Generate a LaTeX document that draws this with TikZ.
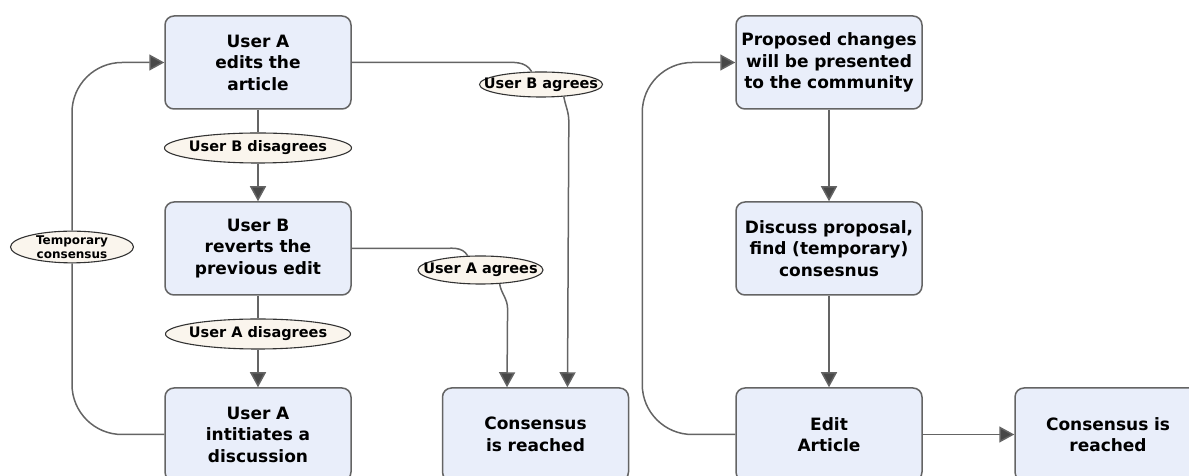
\documentclass[tikz,border=0pt]{standalone}
\usepackage{fontspec}
\setmainfont{DejaVu Sans}
\usetikzlibrary{arrows.meta,shapes.geometric,positioning}
\definecolor{BoxBlue}{RGB}{233,238,250}
\definecolor{OvalCream}{RGB}{250,245,237}
\definecolor{LineGray}{RGB}{100,100,100}
\definecolor{TipGray}{RGB}{72,72,72}
\tikzset{
  stepbox/.style={draw=LineGray,line width=1.5pt,rounded corners=9pt,fill=BoxBlue,
    minimum width=186pt,minimum height=93pt,text width=182pt,align=center,inner sep=0pt,
    font=\bfseries\fontsize{17}{21.5}\selectfont},
  oval/.style={ellipse,draw=black!80,line width=1.1pt,fill=OvalCream,inner xsep=-16pt,inner ysep=0pt,
    font=\bfseries\fontsize{14.5}{17}\selectfont},
  link/.style={draw=LineGray,line width=1.5pt},
  flow/.style={link,-{Triangle[length=15pt,width=16pt,fill=TipGray]}},
}

\begin{document}
\begin{tikzpicture}[x=1pt,y=1pt]
      \useasboundingbox (0,0) rectangle (1189,476);
      % left flow
      \node[stepbox] (ua) at (258,413.5) {User A\\edits the\\article};
      \node[stepbox] (ub) at (258,227.5) {User B\\reverts the\\previous edit};
      \node[stepbox] (uc) at (258,41.5) {User A\\intitiates a\\discussion};
      \node[stepbox] (cons1) at (535.5,41.5) {Consensus\\is reached};
      \node[oval,minimum width=187pt,minimum height=30pt] (bdis) at (258,328) {User B disagrees};
      \node[oval,minimum width=185pt,minimum height=30pt] (adis) at (258,142) {User A disagrees};
      \node[oval,minimum width=123pt,minimum height=30pt,align=center,
        font=\bfseries\fontsize{12}{13.5}\selectfont] (temp) at (72,229) {Temporary\\consensus};
      \node[oval,minimum width=123pt,minimum height=25pt] (bagr) at (541,391.5) {User B agrees};
      \node[oval,minimum width=125pt,minimum height=28pt] (aagr) at (480.5,206) {User A agrees};
      \draw[link] (ua.south) -- (bdis.north);
      \draw[flow] (bdis.south) -- (ub.north);
      \draw[link] (ub.south) -- (adis.north);
      \draw[flow] (adis.south) -- (uc.north);
      \draw[link,rounded corners=50pt] (uc.west) -| (temp.south);
      \draw[flow,rounded corners=50pt] (temp.north) |- (ua.west);
      \draw[link] (ua.east) -- (500,413.5) to[out=0,in=120] (bagr.126);
      \draw[flow] (bagr.-28) to[out=-80,in=90] ++(5,-25) -- ([xshift=32pt]cons1.north);
      \draw[link] (ub.east) -- (440,227.5) to[out=0,in=120] (aagr.132);
      \draw[flow] (aagr.-36) to[out=-80,in=90] ++(8,-25) -- ([xshift=-28.5pt]cons1.north);
      % right flow
      \node[stepbox] (prop) at (829,413.5) {Proposed changes\\will be presented\\to the community};
      \node[stepbox] (disc) at (829,227.5) {Discuss proposal,\\find (temporary)\\consesnus};
      \node[stepbox] (edit) at (829,41.5) {Edit\\Article};
      \node[stepbox] (cons2) at (1108,41.5) {Consensus is\\reached};
      \draw[flow] (prop.south) -- (disc.north);
      \draw[flow] (disc.south) -- (edit.north);
      \draw[flow] (edit.east) -- (cons2.west);
      \draw[flow,rounded corners=50pt] (edit.west) -- ++(-93,0) |- (prop.west);
\end{tikzpicture}
\end{document}
